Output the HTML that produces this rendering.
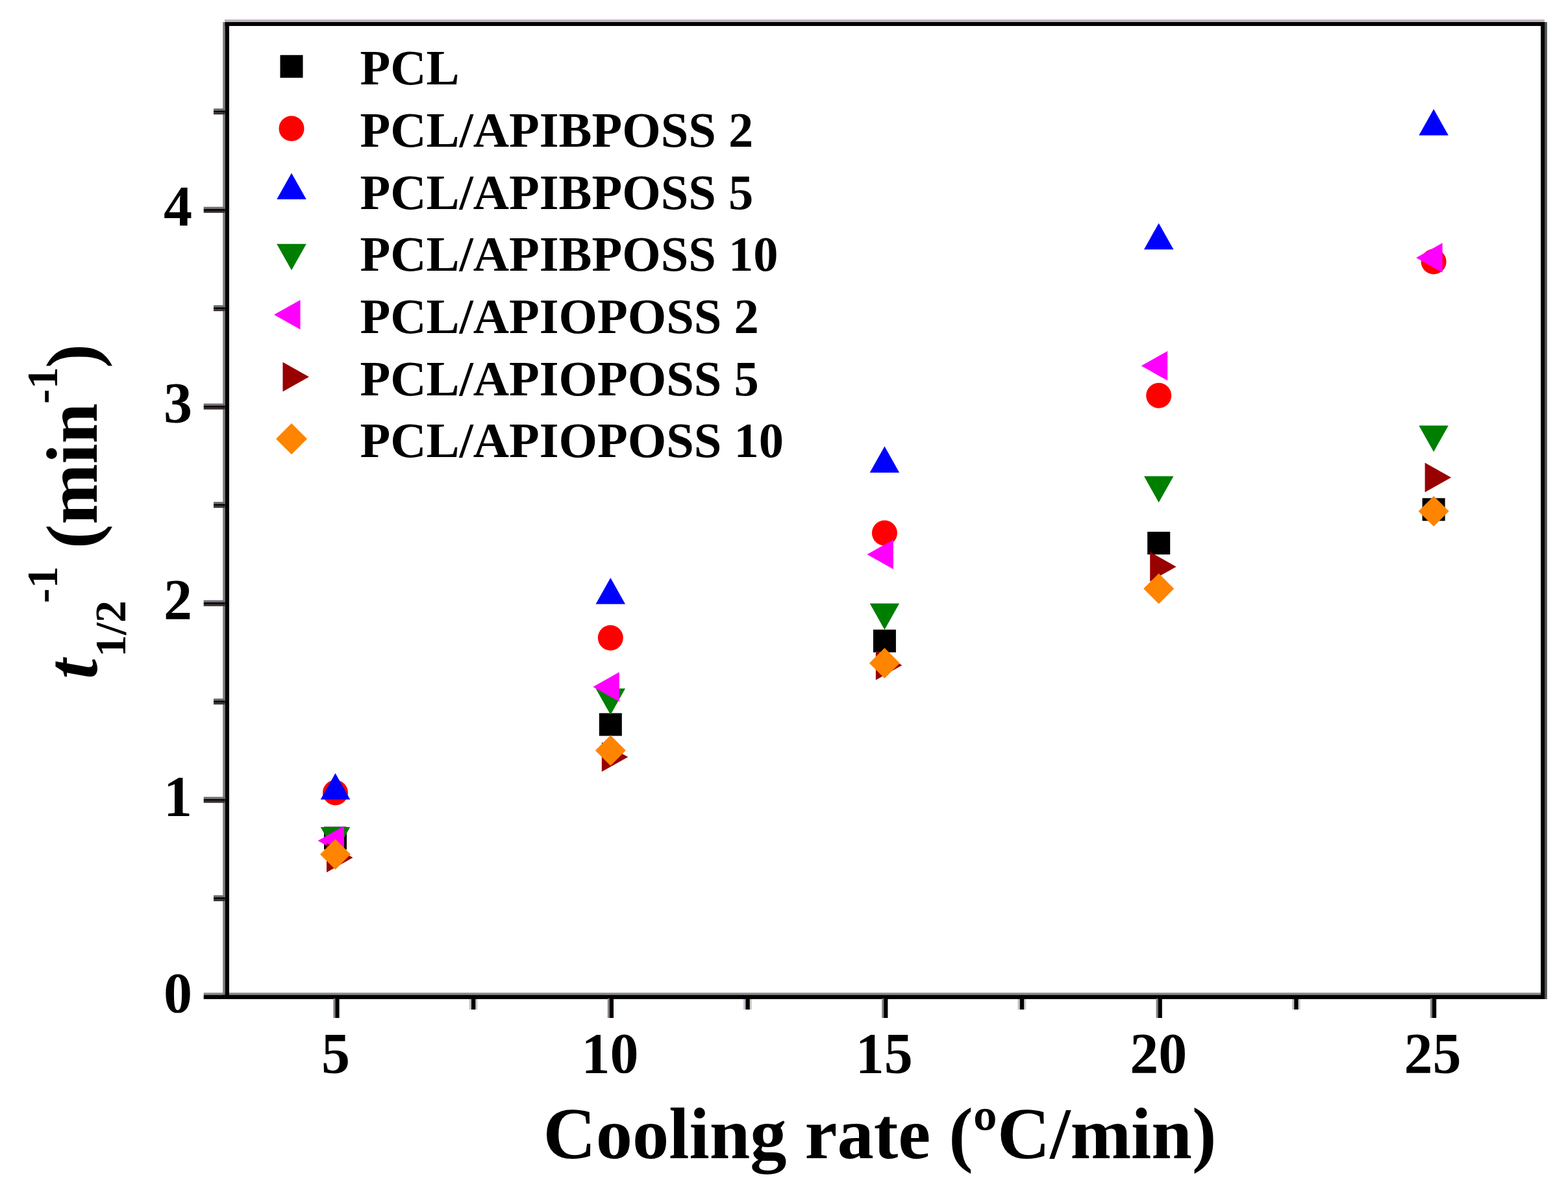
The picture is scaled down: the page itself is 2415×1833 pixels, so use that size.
<!DOCTYPE html><html><head><meta charset="utf-8"><title>t1/2-1 vs cooling rate</title>
<style>html,body{margin:0;padding:0;background:#fff;}svg{display:block;}text{font-family:"Liberation Serif","Times New Roman",serif;font-weight:bold;fill:#000;}</style></head><body>
<svg width="2415" height="1833" viewBox="0 0 2415 1833">
<rect x="0" y="0" width="2415" height="1833" fill="#fff"/>
<rect x="346" y="30" width="2033" height="4" fill="#bfb3c1"/>
<rect x="313.7" y="1529" width="2060" height="3.4" fill="#8f8f8f"/>
<rect x="343.2" y="34" width="3.4" height="1505" fill="#7d7d7d"/>
<rect x="2379" y="34" width="3.8" height="1505" fill="#4f564f"/>
<rect x="346.6" y="34" width="6.4" height="1505" fill="#000"/>
<rect x="2373" y="34" width="6" height="1505" fill="#000"/>
<rect x="346.6" y="34" width="2032.4" height="6" fill="#000"/>
<rect x="313.7" y="1532.4" width="2065.3" height="6.6" fill="#000"/>
<rect x="313.7" y="1227.45" width="32.90" height="3.2" fill="#6e6e76"/>
<rect x="313.7" y="1230.65" width="32.90" height="3.1" fill="#000"/>
<rect x="313.7" y="1233.75" width="32.90" height="2.9" fill="#3a2c2c"/>
<rect x="313.7" y="924.50" width="32.90" height="3.2" fill="#6e6e76"/>
<rect x="313.7" y="927.70" width="32.90" height="3.1" fill="#000"/>
<rect x="313.7" y="930.80" width="32.90" height="2.9" fill="#3a2c2c"/>
<rect x="313.7" y="621.55" width="32.90" height="3.2" fill="#6e6e76"/>
<rect x="313.7" y="624.75" width="32.90" height="3.1" fill="#000"/>
<rect x="313.7" y="627.85" width="32.90" height="2.9" fill="#3a2c2c"/>
<rect x="313.7" y="318.60" width="32.90" height="3.2" fill="#6e6e76"/>
<rect x="313.7" y="321.80" width="32.90" height="3.1" fill="#000"/>
<rect x="313.7" y="324.90" width="32.90" height="2.9" fill="#3a2c2c"/>
<rect x="329.0" y="1378.93" width="17.60" height="3.2" fill="#6e6e76"/>
<rect x="329.0" y="1382.12" width="17.60" height="3.1" fill="#000"/>
<rect x="329.0" y="1385.23" width="17.60" height="2.9" fill="#3a2c2c"/>
<rect x="329.0" y="1075.98" width="17.60" height="3.2" fill="#6e6e76"/>
<rect x="329.0" y="1079.17" width="17.60" height="3.1" fill="#000"/>
<rect x="329.0" y="1082.28" width="17.60" height="2.9" fill="#3a2c2c"/>
<rect x="329.0" y="773.02" width="17.60" height="3.2" fill="#6e6e76"/>
<rect x="329.0" y="776.23" width="17.60" height="3.1" fill="#000"/>
<rect x="329.0" y="779.33" width="17.60" height="2.9" fill="#3a2c2c"/>
<rect x="329.0" y="470.07" width="17.60" height="3.2" fill="#6e6e76"/>
<rect x="329.0" y="473.27" width="17.60" height="3.1" fill="#000"/>
<rect x="329.0" y="476.37" width="17.60" height="2.9" fill="#3a2c2c"/>
<rect x="329.0" y="167.13" width="17.60" height="3.2" fill="#6e6e76"/>
<rect x="329.0" y="170.33" width="17.60" height="3.1" fill="#000"/>
<rect x="329.0" y="173.43" width="17.60" height="2.9" fill="#3a2c2c"/>
<text x="296" y="1559.0" font-size="88" text-anchor="end">0</text>
<text x="296" y="1256.0" font-size="88" text-anchor="end">1</text>
<text x="296" y="953.1" font-size="88" text-anchor="end">2</text>
<text x="296" y="650.2" font-size="88" text-anchor="end">3</text>
<text x="296" y="347.2" font-size="88" text-anchor="end">4</text>
<rect x="513.40" y="1538.0" width="3" height="30.0" fill="#8a8080"/>
<rect x="516.40" y="1538.0" width="6.2" height="30.0" fill="#000"/>
<text x="517.0" y="1652" font-size="88" text-anchor="middle">5</text>
<rect x="935.80" y="1538.0" width="3" height="30.0" fill="#8a8080"/>
<rect x="938.80" y="1538.0" width="6.2" height="30.0" fill="#000"/>
<text x="939.4" y="1652" font-size="88" text-anchor="middle">10</text>
<rect x="1358.20" y="1538.0" width="3" height="30.0" fill="#8a8080"/>
<rect x="1361.20" y="1538.0" width="6.2" height="30.0" fill="#000"/>
<text x="1361.8" y="1652" font-size="88" text-anchor="middle">15</text>
<rect x="1780.60" y="1538.0" width="3" height="30.0" fill="#8a8080"/>
<rect x="1783.60" y="1538.0" width="6.2" height="30.0" fill="#000"/>
<text x="1784.2" y="1652" font-size="88" text-anchor="middle">20</text>
<rect x="2203.00" y="1538.0" width="3" height="30.0" fill="#8a8080"/>
<rect x="2206.00" y="1538.0" width="6.2" height="30.0" fill="#000"/>
<text x="2206.6" y="1652" font-size="88" text-anchor="middle">25</text>
<rect x="722.70" y="1539.0" width="3.3" height="16.0" fill="#c0c4cc"/>
<rect x="732.40" y="1539.0" width="3.1" height="16.0" fill="#d6cdc8"/>
<rect x="726.00" y="1538.0" width="6.4" height="17.0" fill="#000"/>
<rect x="1145.10" y="1539.0" width="3.3" height="16.0" fill="#c0c4cc"/>
<rect x="1154.80" y="1539.0" width="3.1" height="16.0" fill="#d6cdc8"/>
<rect x="1148.40" y="1538.0" width="6.4" height="17.0" fill="#000"/>
<rect x="1567.50" y="1539.0" width="3.3" height="16.0" fill="#c0c4cc"/>
<rect x="1577.20" y="1539.0" width="3.1" height="16.0" fill="#d6cdc8"/>
<rect x="1570.80" y="1538.0" width="6.4" height="17.0" fill="#000"/>
<rect x="1989.90" y="1539.0" width="3.3" height="16.0" fill="#c0c4cc"/>
<rect x="1999.60" y="1539.0" width="3.1" height="16.0" fill="#d6cdc8"/>
<rect x="1993.20" y="1538.0" width="6.4" height="17.0" fill="#000"/>
<text x="836.4" y="1784" font-size="112.5">Cooling rate (ºC/min)</text>
<text transform="translate(149,1046) rotate(-90)" x="0" y="0" font-size="112" font-style="italic" text-anchor="start">t</text>
<text transform="translate(192.5,1012) rotate(-90)" x="0" y="0" font-size="68" text-anchor="start">1/2</text>
<text transform="translate(87.5,929) rotate(-90)" x="0" y="0" font-size="68" text-anchor="start">-1</text>
<text transform="translate(149,845) rotate(-90)" x="0" y="0" font-size="112" text-anchor="start">(min</text>
<text transform="translate(87.5,622) rotate(-90)" x="0" y="0" font-size="68" text-anchor="start">-1</text>
<text transform="translate(149,567) rotate(-90)" x="0" y="0" font-size="112" text-anchor="start">)</text>
<rect x="431.50" y="84.80" width="35.0" height="35.0" fill="#000000"/>
<text x="554.5" y="130.3" font-size="76.5">PCL</text>
<circle cx="449.00" cy="197.93" r="19.5" fill="#FF0000"/>
<text x="554.5" y="225.9" font-size="76.5">PCL/APIBPOSS 2</text>
<polygon points="449.00,266.56 471.75,307.06 426.25,307.06" fill="#0000FF"/>
<text x="554.5" y="321.6" font-size="76.5">PCL/APIBPOSS 5</text>
<polygon points="449.00,416.19 471.75,375.69 426.25,375.69" fill="#007E00"/>
<text x="554.5" y="417.2" font-size="76.5">PCL/APIBPOSS 10</text>
<polygon points="422.00,484.82 462.50,462.07 462.50,507.57" fill="#FF00FF"/>
<text x="554.5" y="512.8" font-size="76.5">PCL/APIOPOSS 2</text>
<polygon points="476.00,580.45 435.50,557.70 435.50,603.20" fill="#990000"/>
<text x="554.5" y="608.5" font-size="76.5">PCL/APIOPOSS 5</text>
<polygon points="449.00,652.08 473.00,676.08 449.00,700.08 425.00,676.08" fill="#FF8400"/>
<text x="554.5" y="704.1" font-size="76.5">PCL/APIOPOSS 10</text>
<rect x="499.00" y="1273.50" width="35.0" height="35.0" fill="#000000"/>
<rect x="922.80" y="1098.50" width="35.0" height="35.0" fill="#000000"/>
<rect x="1344.90" y="969.80" width="35.0" height="35.0" fill="#000000"/>
<rect x="1767.20" y="819.10" width="35.0" height="35.0" fill="#000000"/>
<rect x="2190.60" y="767.30" width="35.0" height="35.0" fill="#000000"/>
<circle cx="516.50" cy="1221.00" r="19.5" fill="#FF0000"/>
<circle cx="940.30" cy="982.50" r="19.5" fill="#FF0000"/>
<circle cx="1362.40" cy="821.00" r="19.5" fill="#FF0000"/>
<circle cx="1784.70" cy="609.20" r="19.5" fill="#FF0000"/>
<circle cx="2208.10" cy="403.00" r="19.5" fill="#FF0000"/>
<polygon points="516.50,1191.00 539.25,1231.50 493.75,1231.50" fill="#0000FF"/>
<polygon points="940.30,890.00 963.05,930.50 917.55,930.50" fill="#0000FF"/>
<polygon points="1362.40,687.60 1385.15,728.10 1339.65,728.10" fill="#0000FF"/>
<polygon points="1784.70,343.70 1807.45,384.20 1761.95,384.20" fill="#0000FF"/>
<polygon points="2208.10,168.00 2230.85,208.50 2185.35,208.50" fill="#0000FF"/>
<polygon points="516.50,1314.50 539.25,1274.00 493.75,1274.00" fill="#007E00"/>
<polygon points="940.30,1101.00 963.05,1060.50 917.55,1060.50" fill="#007E00"/>
<polygon points="1362.40,970.10 1385.15,929.60 1339.65,929.60" fill="#007E00"/>
<polygon points="1784.70,774.00 1807.45,733.50 1761.95,733.50" fill="#007E00"/>
<polygon points="2208.10,696.00 2230.85,655.50 2185.35,655.50" fill="#007E00"/>
<polygon points="489.50,1295.00 530.00,1272.25 530.00,1317.75" fill="#FF00FF"/>
<polygon points="913.30,1058.00 953.80,1035.25 953.80,1080.75" fill="#FF00FF"/>
<polygon points="1335.40,854.00 1375.90,831.25 1375.90,876.75" fill="#FF00FF"/>
<polygon points="1757.70,563.50 1798.20,540.75 1798.20,586.25" fill="#FF00FF"/>
<polygon points="2181.10,397.00 2221.60,374.25 2221.60,419.75" fill="#FF00FF"/>
<polygon points="543.50,1321.00 503.00,1298.25 503.00,1343.75" fill="#990000"/>
<polygon points="967.30,1166.00 926.80,1143.25 926.80,1188.75" fill="#990000"/>
<polygon points="1389.40,1024.70 1348.90,1001.95 1348.90,1047.45" fill="#990000"/>
<polygon points="1811.70,872.90 1771.20,850.15 1771.20,895.65" fill="#990000"/>
<polygon points="2235.10,735.40 2194.60,712.65 2194.60,758.15" fill="#990000"/>
<polygon points="516.50,1292.50 540.00,1316.00 516.50,1339.50 493.00,1316.00" fill="#FF8400"/>
<polygon points="940.30,1132.50 963.80,1156.00 940.30,1179.50 916.80,1156.00" fill="#FF8400"/>
<polygon points="1362.40,998.00 1385.90,1021.50 1362.40,1045.00 1338.90,1021.50" fill="#FF8400"/>
<polygon points="1784.70,883.30 1808.20,906.80 1784.70,930.30 1761.20,906.80" fill="#FF8400"/>
<polygon points="2208.10,764.00 2231.60,787.50 2208.10,811.00 2184.60,787.50" fill="#FF8400"/>
</svg></body></html>
